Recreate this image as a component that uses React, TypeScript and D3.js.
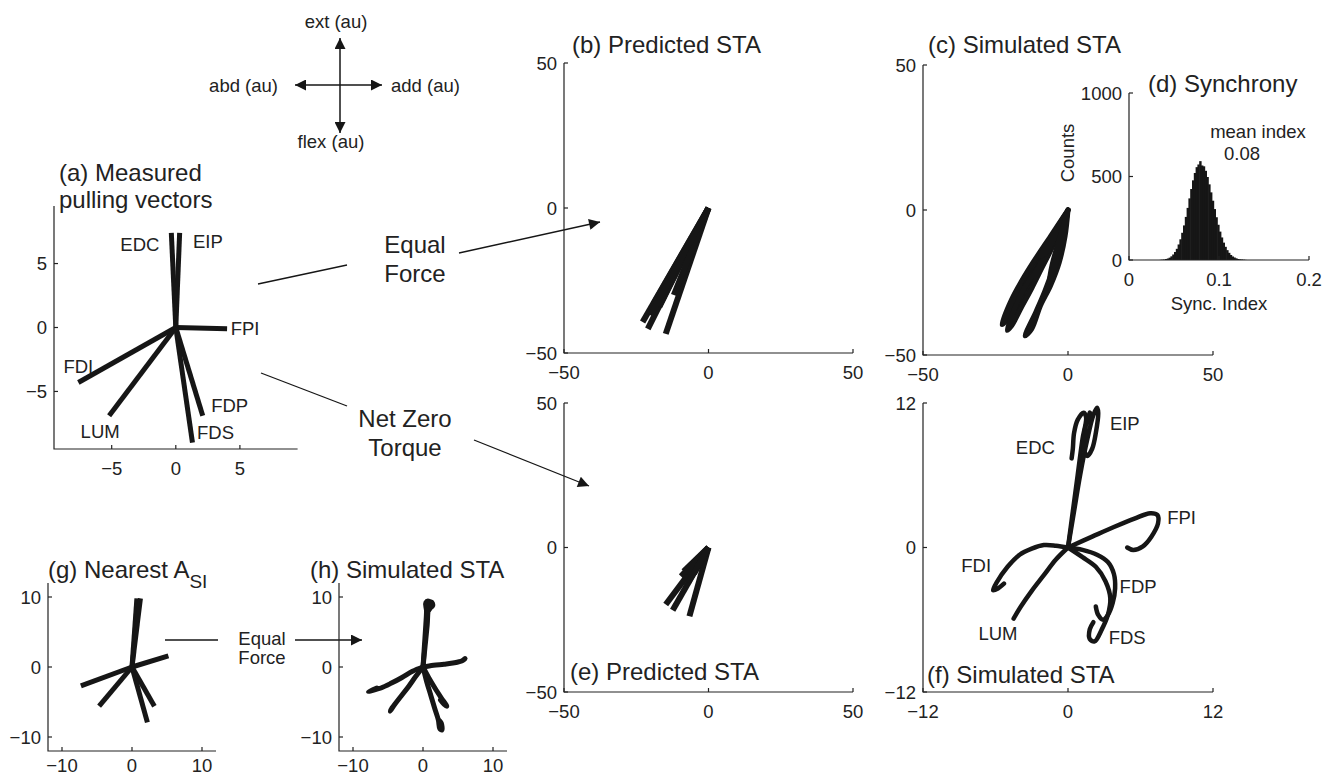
import React from "react";
import * as d3 from "d3";

const FONT = "'Liberation Sans', Arial, Helvetica, sans-serif";
const INK = "#161616";
const AX = "#222";

// ---------- data ----------
const muscles = ["EDC", "EIP", "FPI", "FDI", "LUM", "FDP", "FDS"];
// (a) measured pulling vectors
const pullX = [-0.35, 0.3, 4.0, -7.6, -5.2, 2.1, 1.3];
const pullY = [7.4, 7.4, -0.1, -4.3, -6.9, -6.9, -9.0];
const labelAX = [-2.8, 2.5, 5.4, -7.6, -5.9, 4.2, 3.1];
const labelAY = [6.5, 6.7, -0.05, -3.0, -8.1, -6.1, -8.2];

// (b) predicted STA, equal force
const predEqX = [-22.8, -21.0, -14.8, -19.0, -17.0, -12.0, -20.0];
const predEqY = [-39.3, -41.7, -43.4, -33.0, -34.0, -30.0, -37.0];

// (e) predicted STA, net zero torque
const predNzX = [-14.8, -12.4, -6.6, -8.6, -9.5, -5.0, -7.0];
const predNzY = [-19.7, -21.7, -23.8, -8.3, -10.0, -9.0, -12.0];

// (c) simulated STA, equal force (trajectories)
const simEqTraj: [number, number][][] = [
  [[0, 0], [-6, -9], [-12, -18], [-16, -24.5], [-19.5, -31], [-22.8, -39.5], [-21.2, -38], [-18, -31.5], [-14.5, -25.5], [-10, -19], [-5, -10], [0, 0]],
  [[0, 0], [-4, -9], [-8, -16], [-11, -21], [-14.5, -26], [-18, -33], [-21, -41.5], [-19.5, -40], [-16, -33.5], [-12.5, -27], [-9, -20], [-5, -12], [0, 0]],
  [[0, 0], [-2, -8], [-3.5, -14], [-5.5, -21], [-8, -28], [-11, -35], [-14.8, -43.4], [-12.5, -41], [-9.5, -33], [-6, -26], [-3, -18], [-1, -9], [0, 0]],
  [[0, 0], [-5, -8], [-8, -13], [-9.5, -16], [-7, -14], [-3, -6], [0, 0]],
  [[0, 0], [-3, -10], [-5.5, -19], [-6.5, -25], [-4.5, -20], [-2, -10], [0, 0]],
];

// (d) synchrony histogram
const syncBins = [0.035, 0.037, 0.039, 0.041, 0.043, 0.045, 0.047, 0.049, 0.051, 0.053, 0.055, 0.057, 0.059, 0.061, 0.063, 0.065, 0.067, 0.069, 0.071, 0.073, 0.075, 0.077, 0.079, 0.081, 0.083, 0.085, 0.087, 0.089, 0.091, 0.093, 0.095, 0.097, 0.099, 0.101, 0.103, 0.105, 0.107, 0.109, 0.111, 0.113, 0.115, 0.117, 0.119, 0.121, 0.123, 0.125, 0.127, 0.129];
const syncCounts = [1, 2, 3, 6, 9, 14, 22, 33, 48, 67, 93, 124, 163, 207, 258, 312, 369, 425, 477, 521, 556, 572, 592, 566, 561, 534, 497, 453, 405, 355, 305, 256, 211, 170, 135, 104, 79, 59, 43, 30, 21, 15, 10, 6, 4, 3, 2, 1];
const syncBinWidth = 0.002;

// (f) simulated STA, net zero torque (trajectories)
const simNzTraj: [number, number][][] = [
  [[0, 0], [0.4, 3], [0.8, 6], [1.2, 9], [1.5, 10.8], [1.3, 11.2], [0.8, 10.6], [0.5, 9.5], [0.4, 8.2], [0.3, 7.4]],
  [[0, 0], [0.5, 3], [1.0, 6], [1.6, 9], [2.1, 11.0], [2.4, 11.6], [2.5, 11.2], [2.3, 9.5], [2.0, 8.2], [1.6, 7.6], [1.3, 8.2], [1.4, 9.8], [1.8, 11.2]],
  [[0, 0], [2, 0.9], [3.75, 1.68], [5.5, 2.4], [6.8, 2.85], [7.4, 2.7], [7.45, 2.0], [6.9, 0.9], [6.2, 0.1], [5.4, -0.2], [4.9, 0.0]],
  [[0, 0], [-1, 0.15], [-2, 0.2], [-3, -0.1], [-4, -0.6], [-5, -1.6], [-5.9, -2.9], [-6.2, -3.55], [-5.8, -3.4], [-5.3, -3.0]],
  [[0, 0], [-1, -1.0], [-2, -2.3], [-3, -3.6], [-3.9, -4.9], [-4.5, -5.9]],
  [[0, 0], [1.2, -0.2], [2.4, -0.6], [3.3, -1.2], [3.8, -2.2], [3.9, -3.4], [3.7, -4.6], [3.3, -5.6], [2.9, -6.0], [2.5, -5.6], [2.3, -4.9]],
  [[0, 0], [1.2, -0.8], [2.3, -1.6], [3.1, -2.8], [3.5, -4.2], [3.3, -5.6], [2.8, -6.8], [2.2, -7.8], [1.8, -7.6], [1.8, -6.8], [2.1, -6.2]],
];
const labelFX = [-2.7, 4.7, 9.4, -7.6, -5.8, 5.8, 4.9];
const labelFY = [8.3, 10.3, 2.5, -1.5, -7.1, -3.2, -7.5];

// (g) nearest A_SI
const nearX = [0.7, 1.2, 5.2, -7.3, -4.7, 3.2, 2.2];
const nearY = [9.8, 9.8, 1.6, -2.7, -5.6, -5.6, -7.9];

// (h) simulated STA from nearest A_SI
const simNearTraj: [number, number][][] = [
  [[0, 0], [0.2, 3], [0.4, 6], [0.5, 8], [0.4, 9.2], [0.8, 9.4], [1.1, 9.0], [0.9, 8.2]],
  [[0, 0], [0.3, 3], [0.6, 6], [0.8, 8.5], [1.2, 9.3], [1.4, 8.8], [1.0, 8.4]],
  [[0, 0], [1.5, 0.25], [3, 0.4], [4.5, 0.6], [5.6, 0.9], [6, 1.2]],
  [[0, 0], [-1.5, -0.6], [-3, -1.5], [-4.5, -2.3], [-6, -3], [-7.4, -3.4], [-7.8, -3.5], [-6.6, -3.0]],
  [[0, 0], [-1, -1.3], [-2, -2.7], [-3, -4], [-4, -5.3], [-4.7, -6.3], [-4.4, -5.8]],
  [[0, 0], [0.8, -1.5], [1.7, -3], [2.6, -4.4], [3.4, -5.6], [3.0, -5.3], [2.5, -4.7]],
  [[0, 0], [0.5, -2], [1.1, -4], [1.7, -6], [2.2, -7.6], [2.4, -8.8], [2.7, -9.0], [2.6, -8.0], [2.2, -7.5]],
];

// axis ticks
const ticksA = [-5, 0, 5];
const ticks50 = [-50, 0, 50];
const ticks12 = [-12, 0, 12];
const ticks10 = [-10, 0, 10];
const ticksDX = [0, 0.1, 0.2];
const ticksDY = [0, 500, 1000];

// ---------- helpers ----------
type Spec = {
  left: number; right: number; top: number; bottom: number;
  xd: [number, number]; yd: [number, number]; xt: number[]; yt: number[];
  xlOff?: number;
};

const fmt = (v: number) => (v < 0 ? "\u2212" + String(Math.abs(v)) : String(v));

function scales(s: Spec) {
  const x = d3.scaleLinear().domain(s.xd).range([s.left, s.right]);
  const y = d3.scaleLinear().domain(s.yd).range([s.bottom, s.top]);
  return { x, y };
}

function Axes({ s }: { s: Spec }) {
  const { x, y } = scales(s);
  const off = s.xlOff ?? 26;
  return (
    <g fontSize={18.5} fill={AX}>
      <path d={`M${s.left},${s.top}V${s.bottom}H${s.right}`} fill="none" stroke={AX} strokeWidth={1.2} />
      {s.xt.map((t) => (
        <g key={"x" + t}>
          <line x1={x(t)} x2={x(t)} y1={s.bottom} y2={s.bottom - 4} stroke={AX} strokeWidth={1.2} />
          <text x={x(t)} y={s.bottom + off} textAnchor="middle">{fmt(t)}</text>
        </g>
      ))}
      {s.yt.map((t) => (
        <g key={"y" + t}>
          <line x1={s.left} x2={s.left + 4} y1={y(t)} y2={y(t)} stroke={AX} strokeWidth={1.2} />
          <text x={s.left - 7} y={y(t)} dy="0.36em" textAnchor="end">{fmt(t)}</text>
        </g>
      ))}
    </g>
  );
}

function Vectors({ s, xs, ys, w = 5 }: { s: Spec; xs: number[]; ys: number[]; w?: number }) {
  const { x, y } = scales(s);
  return (
    <g stroke={INK} strokeWidth={w} strokeLinecap="butt">
      {xs.map((v, i) => (
        <line key={i} x1={x(0)} y1={y(0)} x2={x(v)} y2={y(ys[i])} />
      ))}
    </g>
  );
}

function Trajs({ s, trajs, w = 4.5, fill = false }: { s: Spec; trajs: [number, number][][]; w?: number; fill?: boolean }) {
  const { x, y } = scales(s);
  const line = d3.line<[number, number]>().x((d) => x(d[0])).y((d) => y(d[1])).curve(d3.curveCatmullRom.alpha(0.5));
  return (
    <g stroke={INK} strokeWidth={w} strokeLinecap="round" strokeLinejoin="round" fill={fill ? INK : "none"}>
      {trajs.map((t, i) => (
        <path key={i} d={line(t) || ""} />
      ))}
    </g>
  );
}

function Labels({ s, xs, ys, names }: { s: Spec; xs: number[]; ys: number[]; names: string[] }) {
  const { x, y } = scales(s);
  return (
    <g fontSize={18.5} fill={AX} textAnchor="middle">
      {names.map((n, i) => (
        <text key={n} x={x(xs[i])} y={y(ys[i])} dy="0.36em">{n}</text>
      ))}
    </g>
  );
}

// ---------- panel specs ----------
const specA: Spec = { left: 54, right: 297.6, top: 206, bottom: 449, xd: [-9.5, 9.5], yd: [-9.5, 9.5], xt: ticksA, yt: ticksA };
const specB: Spec = { left: 564, right: 853, top: 63, bottom: 353, xd: [-50, 50], yd: [-50, 50], xt: ticks50, yt: ticks50 };
const specC: Spec = { left: 923, right: 1213, top: 65, bottom: 355, xd: [-50, 50], yd: [-50, 50], xt: ticks50, yt: ticks50 };
const specD: Spec = { left: 1129, right: 1309, top: 93, bottom: 260, xd: [0, 0.2], yd: [0, 1000], xt: ticksDX, yt: ticksDY };
const specE: Spec = { left: 564, right: 853, top: 403, bottom: 692, xd: [-50, 50], yd: [-50, 50], xt: ticks50, yt: ticks50 };
const specF: Spec = { left: 923, right: 1213, top: 403, bottom: 692, xd: [-12, 12], yd: [-12, 12], xt: ticks12, yt: ticks12 };
const specG: Spec = { left: 48, right: 216, top: 583, bottom: 751, xd: [-12, 12], yd: [-12, 12], xt: ticks10, yt: ticks10, xlOff: 21 };
const specH: Spec = { left: 339, right: 507, top: 583, bottom: 751, xd: [-12, 12], yd: [-12, 12], xt: ticks10, yt: ticks10, xlOff: 21 };

function Histogram({ s }: { s: Spec }) {
  const { x, y } = scales(s);
  return (
    <g fill={INK}>
      {syncBins.map((c, i) => (
        <rect key={i} x={x(c - syncBinWidth / 2)} width={x(syncBinWidth) - x(0) + 0.6} y={y(syncCounts[i])} height={y(0) - y(syncCounts[i])} />
      ))}
    </g>
  );
}

export default function App() {
  const T = 24;
  return (
    <svg width={1338} height={777} style={{ position: "absolute", left: 0, top: 0, background: "#fff" }} fontFamily={FONT}>
      <defs>
        <marker id="ah" viewBox="0 0 10 10" refX={10} refY={5} markerWidth={15} markerHeight={11} markerUnits="userSpaceOnUse" orient="auto-start-reverse">
          <path d="M0,0L10,5L0,10z" fill={INK} />
        </marker>
      </defs>

      {/* compass */}
      <g stroke={INK} strokeWidth={1.5}>
        <line x1={295} y1={85} x2={382} y2={85} markerStart="url(#ah)" markerEnd="url(#ah)" />
        <line x1={340} y1={38} x2={340} y2={133} markerStart="url(#ah)" markerEnd="url(#ah)" />
      </g>
      <g fontSize={18.5} fill={AX}>
        <text x={336} y={28} textAnchor="middle">ext (au)</text>
        <text x={331} y={148} textAnchor="middle">flex (au)</text>
        <text x={278} y={85} dy="0.36em" textAnchor="end">abd (au)</text>
        <text x={391} y={85} dy="0.36em">add (au)</text>
      </g>

      {/* (a) */}
      <Axes s={specA} />
      <Vectors s={specA} xs={pullX} ys={pullY} w={5} />
      <Labels s={specA} xs={labelAX} ys={labelAY} names={muscles} />
      <text x={59} y={181} fontSize={T} fill={AX}>(a) Measured</text>
      <text x={59} y={208} fontSize={T} fill={AX}>pulling vectors</text>

      {/* connectors */}
      <g stroke={INK} strokeWidth={1.3} fill="none">
        <line x1={258} y1={284} x2={347} y2={265} />
        <line x1={459} y1={253} x2={600} y2={222} markerEnd="url(#ah)" />
        <line x1={261} y1={373} x2={347} y2={406} />
        <line x1={474} y1={440} x2={589} y2={486} markerEnd="url(#ah)" />
        <line x1={165} y1={640} x2={218} y2={640} />
        <line x1={295} y1={640} x2={362} y2={640} markerEnd="url(#ah)" />
      </g>
      <g fontSize={T} fill={AX} textAnchor="middle">
        <text x={415} y={253}>Equal</text>
        <text x={415} y={282}>Force</text>
        <text x={405} y={427}>Net Zero</text>
        <text x={405} y={456}>Torque</text>
      </g>
      <g fontSize={18.5} fill={AX} textAnchor="middle">
        <text x={262} y={645}>Equal</text>
        <text x={262} y={664}>Force</text>
      </g>

      {/* (b) */}
      <Axes s={specB} />
      <Vectors s={specB} xs={predEqX} ys={predEqY} w={6} />
      <text x={572} y={53} fontSize={T} fill={AX}>(b) Predicted STA</text>

      {/* (c) */}
      <Axes s={specC} />
      <Trajs s={specC} trajs={simEqTraj} w={5} fill />
      <text x={928} y={53} fontSize={T} fill={AX}>(c) Simulated STA</text>

      {/* (d) */}
      <Histogram s={specD} />
      <Axes s={specD} />
      <text x={1148} y={92} fontSize={T} fill={AX}>(d) Synchrony</text>
      <g fontSize={18.5} fill={AX} textAnchor="middle">
        <text x={1258} y={138}>mean index</text>
        <text x={1242} y={160}>0.08</text>
        <text x={1219} y={310}>Sync. Index</text>
        <text transform="translate(1074,153) rotate(-90)">Counts</text>
      </g>

      {/* (e) */}
      <Axes s={specE} />
      <Vectors s={specE} xs={predNzX} ys={predNzY} w={6} />
      <text x={570} y={680} fontSize={T} fill={AX}>(e) Predicted STA</text>

      {/* (f) */}
      <Axes s={specF} />
      <Trajs s={specF} trajs={simNzTraj} w={4.5} />
      <Labels s={specF} xs={labelFX} ys={labelFY} names={muscles} />
      <text x={927} y={683} fontSize={T} fill={AX}>(f) Simulated STA</text>

      {/* (g) */}
      <Axes s={specG} />
      <Vectors s={specG} xs={nearX} ys={nearY} w={5} />
      <text x={48} y={578} fontSize={T} fill={AX}>
        (g) Nearest  A<tspan fontSize={19} dy={10}>SI</tspan>
      </text>

      {/* (h) */}
      <Axes s={specH} />
      <Trajs s={specH} trajs={simNearTraj} w={5} />
      <text x={310} y={578} fontSize={T} fill={AX}>(h) Simulated STA</text>
    </svg>
  );
}
